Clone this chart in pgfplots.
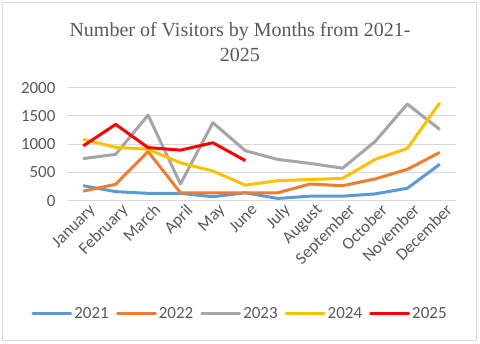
\documentclass[border=0pt]{standalone}
\usepackage{pgfplots}
\pgfplotsset{compat=1.18}
\usepackage{fontspec}
\setmainfont{Carlito}
\newfontfamily\titlefont{Liberation Serif}
\definecolor{c21}{HTML}{5B9BD5}
\definecolor{c22}{HTML}{ED7D31}
\definecolor{c23}{HTML}{A5A5A5}
\definecolor{c24}{HTML}{FFC000}
\definecolor{c25}{HTML}{FF0000}
\definecolor{txt}{HTML}{595959}
\definecolor{gridc}{HTML}{D9D9D9}

\begin{document}
\begin{tikzpicture}[x=1pt,y=1pt]
\useasboundingbox (0,0) rectangle (480,344);
\draw[gridc, line width=1pt] (2.5,3) rectangle (476.5,341);
\node[txt, font=\titlefont\fontsize{20}{25}\selectfont, align=center] at (240,301.5)
  {Number of Visitors by Months from 2021-\\2025};
\begin{axis}[
  at={(67pt,143.3pt)}, anchor=south west,
  scale only axis, width=389pt, height=113pt,
  xmin=-0.5, xmax=11.5, ymin=0, ymax=2000,
  xtick={0,...,11},
  xticklabels={January,February,March,April,May,June,July,August,September,October,November,December},
  ytick={0,500,1000,1500,2000},
  axis line style={draw=none},
  tick style={draw=none},
  ymajorgrids,
  major grid style={gridc, line width=1pt},
  ticklabel style={txt, font=\fontsize{17}{20}\selectfont},
  /pgf/number format/assume math mode=true,
  scaled y ticks=false,
  yticklabel style={/pgf/number format/1000 sep={}, xshift=-8pt},
  xticklabel style={rotate=45, anchor=north east, inner sep=2pt, xshift=4pt, yshift=-3pt},
  every axis plot/.append style={line width=3pt, line join=round},
  legend columns=5,
  legend style={at={(0.4447,-0.996)}, anchor=center, draw=none,
    font=\fontsize{17}{20}\selectfont, text=txt,
    /tikz/every even column/.append style={column sep=5pt}},
  legend image code/.code={\draw[#1, line cap=round] (0pt,0pt) -- (38pt,0pt);},
]
\addplot[c21] coordinates {(0,265) (1,160) (2,130) (3,130) (4,70) (5,140) (6,40) (7,80) (8,80) (9,120) (10,220) (11,645)};
\addplot[c22] coordinates {(0,170) (1,290) (2,870) (3,140) (4,140) (5,140) (6,140) (7,295) (8,265) (9,385) (10,555) (11,855)};
\addplot[c23] coordinates {(0,745) (1,820) (2,1515) (3,295) (4,1380) (5,885) (6,730) (7,660) (8,575) (9,1045) (10,1710) (11,1260)};
\addplot[c24] coordinates {(0,1085) (1,945) (2,910) (3,670) (4,525) (5,275) (6,355) (7,375) (8,395) (9,730) (10,925) (11,1735)};
\addplot[c25] coordinates {(0,970) (1,1350) (2,940) (3,895) (4,1025) (5,710)};
\legend{2021,2022,2023,2024,2025}
\end{axis}
\end{tikzpicture}
\end{document}
